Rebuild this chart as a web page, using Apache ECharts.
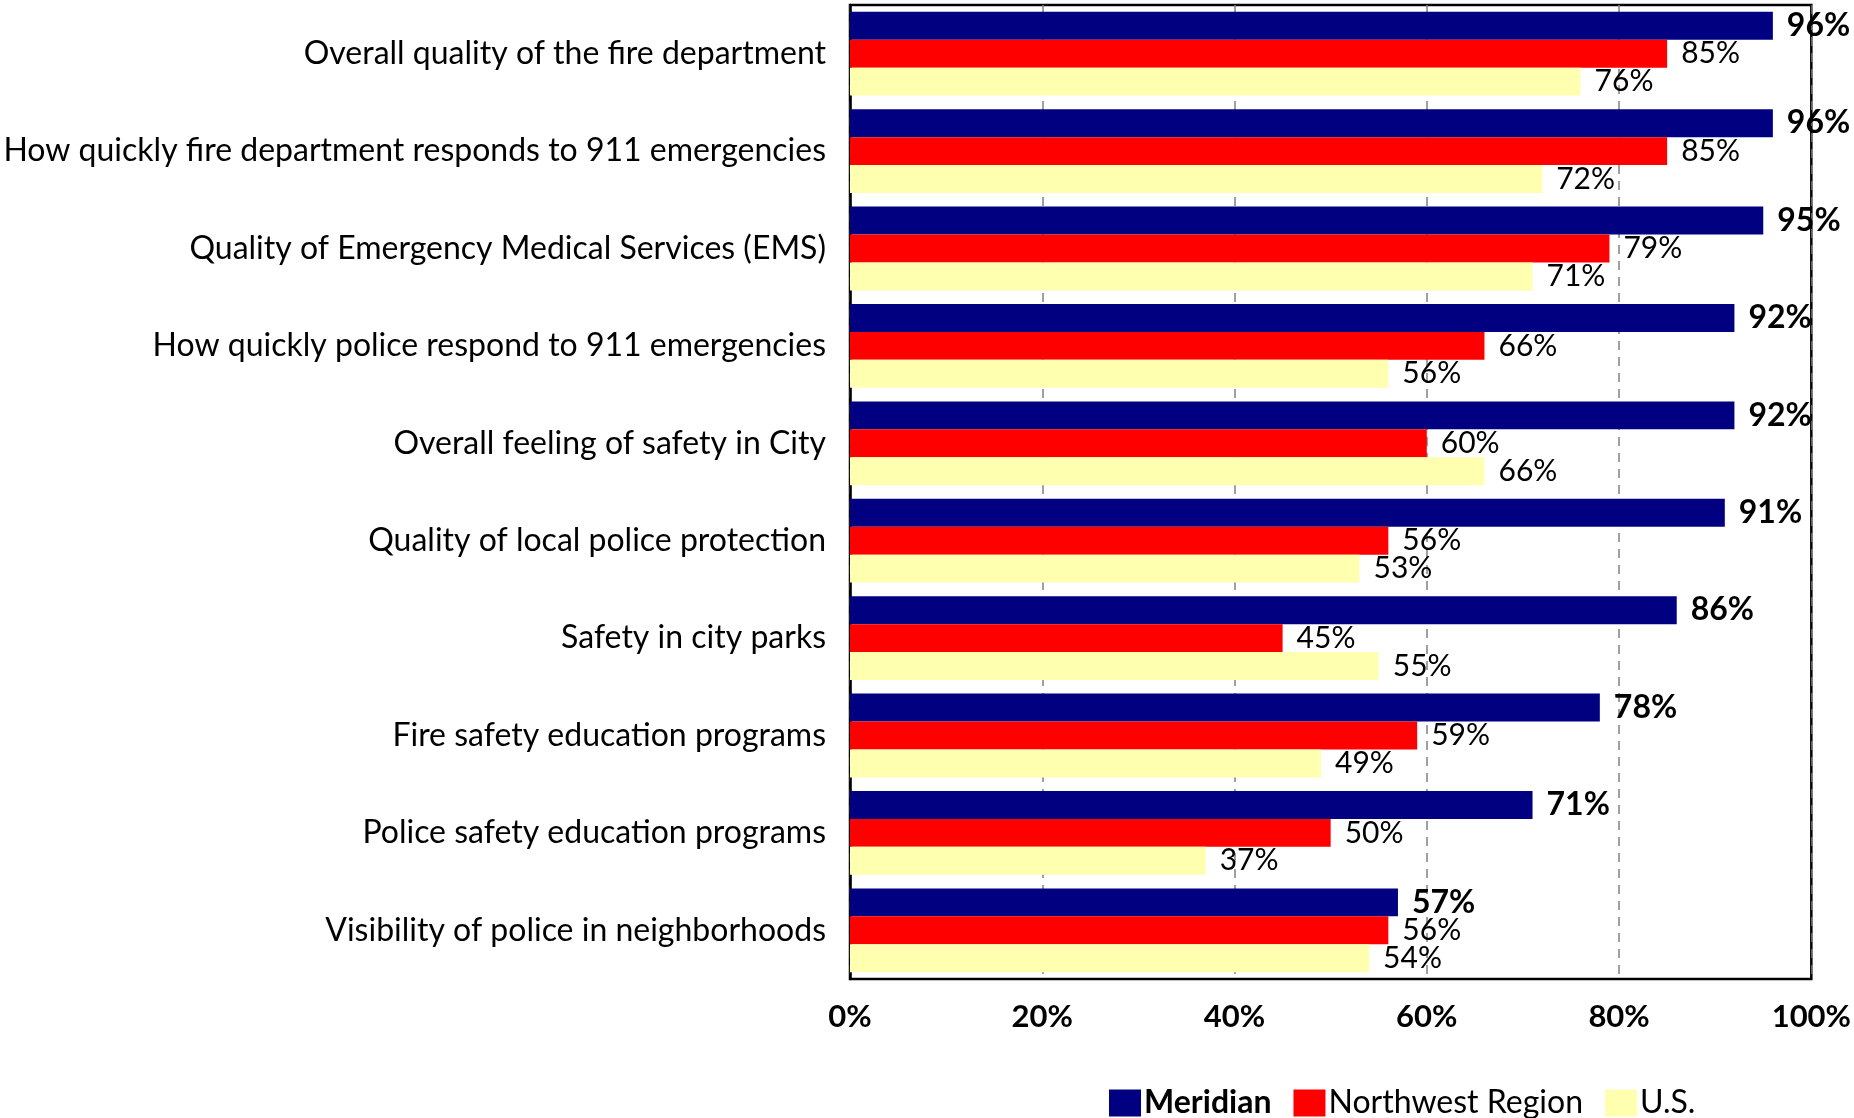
<!DOCTYPE html>
<html><head><meta charset="utf-8">
<script src="https://cdn.jsdelivr.net/npm/echarts@6/dist/echarts.min.js"></script>
<style>html,body{margin:0;padding:0;background:#fff}#c{width:1854px;height:1118px}</style>
</head><body><div id="c"></div>
<script>
var categories = [
  "Overall quality of the fire department",
  "How quickly fire department responds to 911 emergencies",
  "Quality of Emergency Medical Services (EMS)",
  "How quickly police respond to 911 emergencies",
  "Overall feeling of safety in City",
  "Quality of local police protection",
  "Safety in city parks",
  "Fire safety education programs",
  "Police safety education programs",
  "Visibility of police in neighborhoods"
];
var meridian = [96, 96, 95, 92, 92, 91, 86, 78, 71, 57];
var northwest = [85, 85, 79, 66, 60, 56, 45, 59, 50, 56];
var us = [76, 72, 71, 56, 66, 53, 55, 49, 37, 54];
var seriesNames = ["Meridian", "Northwest Region", "U.S."];
var xTicks = [0, 20, 40, 60, 80, 100];

var FONT = "Lato";
var chart = echarts.init(document.getElementById('c'), null, {renderer: 'canvas'});
function mk(name, data, color, bold) {
  return {
    name: name, type: 'bar', data: data, barGap: '0%', barCategoryGap: '14%',
    itemStyle: {color: color},
    label: {show: true, position: 'right', distance: 14, formatter: '{c}%',
      fontFamily: FONT, fontSize: bold ? 32 : 30, color: '#000', fontWeight: bold ? 'bold' : 'normal'}
  };
}
chart.setOption({
  animation: false,
  grid: {left: 850, right: 39, top: 5, bottom: 139, show: true, borderColor: '#000', borderWidth: 2.5, backgroundColor: 'transparent'},
  xAxis: {type: 'value', min: xTicks[0], max: xTicks[xTicks.length-1], interval: 20,
    axisLine: {show: false}, axisTick: {show: false},
    axisLabel: {formatter: '{value}%', fontFamily: FONT, fontSize: 31, fontWeight: 'bold', color: '#000', margin: 22},
    splitLine: {show: true, lineStyle: {color: '#808080', type: [9, 7], width: 1.5}}
  },
  yAxis: {type: 'category', data: categories, inverse: true,
    axisLine: {show: true, lineStyle: {color: '#000', width: 2.5}}, axisTick: {show: false},
    axisLabel: {fontFamily: FONT, fontSize: 32, color: '#000', margin: 24}
  },
  legend: {data: seriesNames, left: 1104, top: 1082, itemWidth: 32, itemHeight: 27, itemGap: 22,
    icon: 'rect',
    formatter: function(n){ return n === 'Meridian' ? '{b|' + n + '}' : n; },
    textStyle: {fontFamily: FONT, fontSize: 32, color: '#000', padding: [0,0,0,-2],
      rich: {b: {fontFamily: FONT, fontSize: 32, fontWeight: 'bold', color: '#000'}}}
  },
  series: [
    mk(seriesNames[0], meridian, '#000080', true),
    mk(seriesNames[1], northwest, '#ff0000', false),
    mk(seriesNames[2], us, '#ffffb0', false)
  ]
});
</script></body></html>
